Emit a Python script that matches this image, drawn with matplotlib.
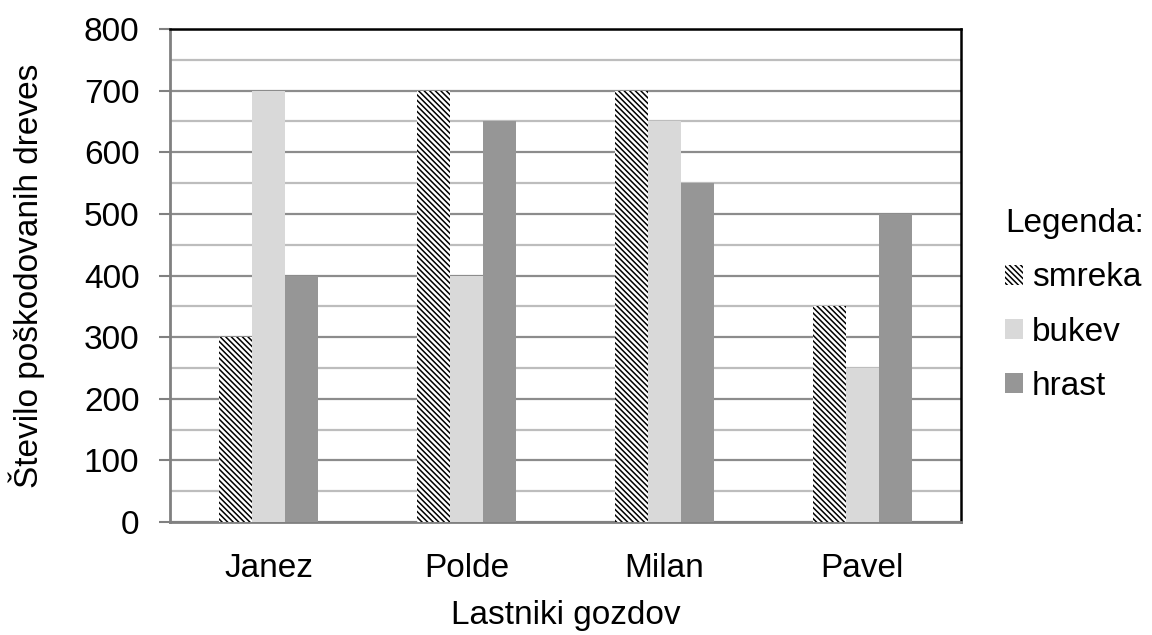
import numpy as np
import matplotlib.pyplot as plt
from matplotlib.ticker import MultipleLocator

plt.rcParams['font.family'] = ['Liberation Sans', 'DejaVu Sans']
plt.rcParams['hatch.linewidth'] = 1.1

# data
owners = ['Janez', 'Polde', 'Milan', 'Pavel']
smreka = [300, 700, 700, 350]
bukev = [700, 400, 650, 250]
hrast = [400, 650, 550, 500]

fig = plt.figure(figsize=(11.52, 6.35), dpi=100)
ax = fig.add_axes([170 / 1152, 1 - 522 / 635, 791 / 1152, 493 / 635])

x = np.arange(len(owners))
w = 0.167
fs = 24

ax.bar(x - w, smreka, w, color='white', edgecolor='black', hatch='\\' * 6,
       linewidth=0, label='smreka', zorder=3)
ax.bar(x, bukev, w, color='#d9d9d9', linewidth=0, label='bukev', zorder=3)
ax.bar(x + w, hrast, w, color='#969696', linewidth=0, label='hrast', zorder=3)

ax.set_xlim(-0.5, 3.5)
ax.set_ylim(0, 800)
ax.yaxis.set_major_locator(MultipleLocator(100))
ax.yaxis.set_minor_locator(MultipleLocator(50))
ax.grid(axis='y', which='major', color='#8c8c8c', linewidth=1.6, zorder=0)
ax.grid(axis='y', which='minor', color='#bdbdbd', linewidth=1.6, zorder=0)
ax.set_axisbelow(True)

ax.set_xticks(x)
ax.set_xticklabels(owners)
ax.tick_params(axis='x', length=0, labelsize=fs, pad=22)
ax.tick_params(axis='y', which='major', length=8, width=1.5, color='#808080',
               labelsize=fs, pad=14)
ax.tick_params(axis='y', which='minor', length=0)

for side in ['top', 'right']:
    ax.spines[side].set_color('black')
    ax.spines[side].set_linewidth(1.8)
for side in ['left', 'bottom']:
    ax.spines[side].set_color('#808080')
    ax.spines[side].set_linewidth(2)

ax.set_xlabel('Lastniki gozdov', fontsize=fs, labelpad=12)
ax.set_ylabel('Število poškodovanih dreves', fontsize=fs)
ax.yaxis.set_label_coords(-0.158, 0.5)

leg = fig.legend(title='Legenda:', loc='upper left',
                 bbox_to_anchor=(1000 / 1152, 1 - 203 / 635),
                 frameon=False, fontsize=fs, title_fontsize=fs,
                 handlelength=0.55, handleheight=0.55, handletextpad=0.25,
                 labelspacing=0.7, borderaxespad=0, borderpad=0.15)
leg._legend_box.align = 'left'

fig.savefig('out.png', dpi=100)
